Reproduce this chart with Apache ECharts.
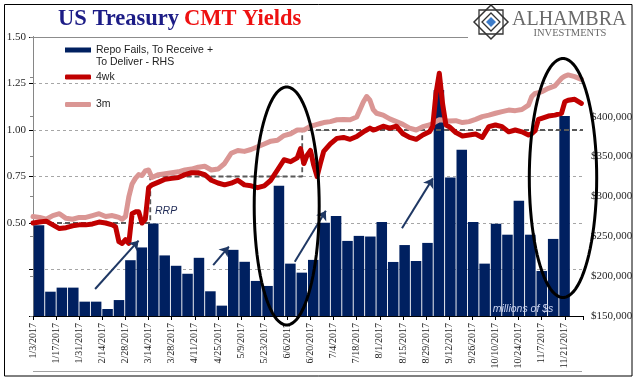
<!DOCTYPE html>
<html><head><meta charset="utf-8">
<script src="https://cdn.jsdelivr.net/npm/echarts@6/dist/echarts.min.js"></script>
<style>html,body{margin:0;padding:0;background:#fff}#c{width:641px;height:381px}</style>
</head><body><div id="c"></div>
<script>
// x tick labels (every 14 days from 1/3/2017)
const tickLabels = ['1/3/2017','1/17/2017','1/31/2017','2/14/2017','2/28/2017','3/14/2017','3/28/2017','4/11/2017','4/25/2017','5/9/2017','5/23/2017','6/6/2017','6/20/2017','7/4/2017','7/18/2017','8/1/2017','8/15/2017','8/29/2017','9/12/2017','9/26/2017','10/10/2017','10/24/2017','11/7/2017','11/21/2017'];
// weekly repo-fails categories
const weekDates = ['1/4','1/11','1/18','1/25','2/1','2/8','2/15','2/22','3/1','3/8','3/15','3/22','3/29','4/5','4/12','4/19','4/26','5/3','5/10','5/17','5/24','5/31','6/7','6/14','6/21','6/28','7/5','7/12','7/19','7/26','8/2','8/9','8/16','8/23','8/30','9/6','9/13','9/20','9/27','10/4','10/11','10/18','10/25','11/1','11/8','11/15','11/22'];
// Repo fails, millions of $
const repoFails = [264000,180500,185600,185600,168000,168000,158800,170000,220000,236000,266000,226000,213000,203000,223000,181000,163000,233000,218000,194000,187700,313300,215700,204400,220400,267000,275600,244200,250500,249700,268000,217800,239000,219000,241700,433500,323700,358500,268000,215700,265600,252000,294500,252000,206500,246700,401000];
// yield series: days since 1/3/2017
const lineDays = [0,4,8,12,16,20,24,28,32,36,40,44,48,50,52,54,56,58,60,62,64,66,68,70,72,76,80,84,88,92,96,100,104,108,112,116,120,124,128,132,136,140,144,148,152,156,160,162,164,166,168,170,172,174,176,180,184,188,192,196,200,202,204,206,208,212,216,220,224,228,232,236,240,242,244,246,248,250,252,256,260,264,268,272,276,280,284,288,292,296,300,302,304,306,308,312,316,320,322,324,328,332];
const yield4wk = [0.50,0.505,0.51,0.49,0.47,0.475,0.485,0.49,0.49,0.495,0.505,0.50,0.49,0.48,0.40,0.39,0.41,0.39,0.55,0.56,0.56,0.50,0.52,0.69,0.705,0.72,0.735,0.74,0.745,0.76,0.77,0.77,0.76,0.73,0.715,0.705,0.714,0.73,0.705,0.70,0.69,0.70,0.73,0.785,0.84,0.83,0.85,0.90,0.82,0.865,0.89,0.81,0.75,0.82,0.885,0.925,0.955,0.96,0.95,0.965,0.99,1.00,1.01,1.00,1.005,1.02,1.01,1.02,0.98,0.96,0.95,0.973,0.99,1.018,1.197,1.305,1.14,1.027,1.018,0.986,0.968,0.973,0.978,0.96,1.018,1.027,1.018,0.99,1.00,0.99,0.973,0.98,0.996,1.057,1.063,1.075,1.08,1.09,1.152,1.16,1.165,1.143];
const yield3m = [0.535,0.53,0.52,0.54,0.55,0.525,0.52,0.53,0.53,0.54,0.55,0.535,0.54,0.535,0.53,0.52,0.535,0.64,0.71,0.74,0.76,0.755,0.78,0.785,0.745,0.76,0.765,0.77,0.775,0.785,0.79,0.80,0.805,0.785,0.79,0.82,0.875,0.89,0.885,0.895,0.91,0.925,0.94,0.945,0.97,0.98,1.00,1.00,1.00,1.01,1.02,1.025,1.03,1.035,1.04,1.045,1.055,1.057,1.055,1.07,1.15,1.18,1.16,1.11,1.09,1.08,1.06,1.045,1.03,1.01,1.00,1.018,1.027,1.035,1.045,1.055,1.054,1.05,1.048,1.05,1.04,1.045,1.057,1.072,1.08,1.09,1.099,1.107,1.104,1.11,1.134,1.18,1.197,1.20,1.206,1.224,1.237,1.278,1.29,1.296,1.287,1.272];
// RRP rate steps
const rrpDays = [0,71,163,333];
const rrpRate = [0.50,0.75,1.00,1.00];
// annotation arrows [fromDay, fromVal, toDay, toVal]
const arrows = [[37.6,0.145,63.9,0.405],[109.1,0.274,118.6,0.373],[158.5,0.292,177.3,0.566],[223.4,0.472,242.1,0.740]];

function ellipsePts(cx, cy, rx, ry){const p=[];for(let i=0;i<90;i++){const t=i/90*Math.PI*2;p.push([cx+rx*Math.cos(t),cy+ry*Math.sin(t)]);}return p;}

const chart = echarts.init(document.getElementById('c'), null, {renderer:'canvas'});
const serif = 'Liberation Serif';
const sans = 'Liberation Sans';
chart.setOption({
  animation:false,
  backgroundColor:'#fff',
  title:{left:58, top:6, padding:0,
    text:'{a|US Treasury} {b|CMT Yields}',
    textStyle:{rich:{
      a:{fontFamily:serif, fontSize:22.5, color:'#1c1c86', lineHeight:26},
      b:{fontFamily:serif, fontSize:22.5, fontWeight:'bold', color:'#ee1111', lineHeight:26}
    }}},
  legend:[
    {data:[{name:'Repo Fails, To Receive +', icon:'rect'}], left:65, top:44.5, padding:0, itemWidth:26, itemHeight:5, selectedMode:false, textStyle:{fontFamily:sans, fontSize:10.5, color:'#222'}},
    {data:[{name:'4wk', icon:'roundRect'}], left:65, top:71.5, padding:0, itemWidth:26, itemHeight:5, selectedMode:false, textStyle:{fontFamily:sans, fontSize:10.5, color:'#222'}},
    {data:[{name:'3m', icon:'roundRect'}], left:65, top:99, padding:0, itemWidth:26, itemHeight:5, selectedMode:false, textStyle:{fontFamily:sans, fontSize:10.5, color:'#222'}}
  ],
  grid:[
    {left:33, right:58, top:37, bottom:65, outerBoundsMode:'none'},
    {left:33.3, right:70.7, top:37, bottom:65, outerBoundsMode:'none'}
  ],
  xAxis:[
    {gridIndex:0, type:'value', min:0, max:333, interval:14, position:'bottom',
     axisLine:{lineStyle:{color:'#000', width:1}},
     axisTick:{show:true, length:4, lineStyle:{color:'#000'}},
     axisLabel:{rotate:90, margin:7, fontFamily:serif, fontSize:10, color:'#222',
       formatter:function(v){const i=Math.round(v/14);return (Math.abs(v-i*14)<0.01 && tickLabels[i])?tickLabels[i]:'';}},
     splitLine:{show:false}},
    {gridIndex:1, type:'category', data:weekDates, boundaryGap:true, show:false},
    {gridIndex:0, type:'value', min:0, max:333, position:'top',
     axisLine:{lineStyle:{color:'#8c8c8c', width:1}}, axisTick:{show:false}, axisLabel:{show:false}, splitLine:{show:false}}
  ],
  yAxis:[
    {gridIndex:0, type:'value', min:0, max:1.5, interval:0.25, position:'left',
     axisLine:{show:true, lineStyle:{color:'#000'}},
     axisTick:{show:true, length:4, lineStyle:{color:'#000'}},
     axisLabel:{margin:7, fontFamily:serif, fontSize:11, color:'#262626',
       formatter:function(v){return v>=0.5?v.toFixed(2):'';}},
     splitLine:{show:true, lineStyle:{color:'#a6a6a6', type:[3,3], width:1}}},
    {gridIndex:0, type:'value', min:150000, max:500000, interval:50000, position:'right',
     axisLine:{show:true, lineStyle:{color:'#868686'}},
     axisTick:{show:true, inside:true, length:3, lineStyle:{color:'#868686'}},
     axisLabel:{margin:8, fontFamily:serif, fontSize:11, color:'#262626',
       formatter:function(v){return v<=400000?'$'+v.toLocaleString('en-US'):'';}},
     splitLine:{show:false}},
    {gridIndex:1, type:'value', min:150000, max:500000, show:false, splitLine:{show:false}}
  ],
  series:[
    {name:'Repo Fails, To Receive +', type:'bar', xAxisIndex:1, yAxisIndex:2, data:repoFails,
     barCategoryGap:'8%', itemStyle:{color:'#002060'}, z:1, silent:true},
    {name:'RRP', type:'line', xAxisIndex:0, yAxisIndex:0, step:'end',
     data:rrpDays.map((d,i)=>[d,rrpRate[i]]), showSymbol:false, z:2, silent:true,
     lineStyle:{color:'#595959', width:1.8, type:[5,3]},
     markLine:{silent:true, symbol:['none','arrow'], symbolSize:9, label:{show:false},
       lineStyle:{color:'#1f3864', width:2, type:'solid'},
       data:arrows.map(a=>[{coord:[a[0],a[1]]},{coord:[a[2],a[3]]}])}},
    {name:'3m', type:'line', xAxisIndex:0, yAxisIndex:0, data:lineDays.map((d,i)=>[d,yield3m[i]]),
     showSymbol:false, z:3, silent:true, color:'#da9694',
     lineStyle:{color:'#da9694', width:5, cap:'round', join:'round'}},
    {name:'4wk', type:'line', xAxisIndex:0, yAxisIndex:0, data:lineDays.map((d,i)=>[d,yield4wk[i]]),
     showSymbol:false, z:4, silent:true, color:'#c00000',
     lineStyle:{color:'#c00000', width:5, cap:'round', join:'round'}}
  ],
  graphic:[
    {type:'rect', shape:{x:4.5, y:4.5, width:627.5, height:371.5}, style:{fill:'none', stroke:'#000', lineWidth:1}, z:50, silent:true},
    {type:'line', shape:{x1:33, y1:371.5, x2:582, y2:371.5}, style:{stroke:'#a0a0a0', lineWidth:1.2}, z:50, silent:true},
    {type:'text', style:{x:96, y:62.5, text:'To Deliver - RHS', font:'10.5px '+sans, fill:'#222', align:'left', verticalAlign:'middle', textAlign:'left', textVerticalAlign:'middle'}, z:50, silent:true},
    {type:'text', style:{x:155, y:211, text:'RRP', font:'italic 10.5px '+sans, fill:'#1f2a55', align:'left', verticalAlign:'middle', textAlign:'left', textVerticalAlign:'middle'}, z:50, silent:true},
    {type:'text', style:{x:523, y:309, text:'millions of $s', font:'italic 10.5px '+sans, fill:'#c9d3f0', align:'center', verticalAlign:'middle', textAlign:'center', textVerticalAlign:'middle'}, z:50, silent:true},
    {type:'polygon', shape:{points:ellipsePts(286.7,206,32.5,119)}, style:{fill:'none', stroke:'#000', lineWidth:3}, z:60, silent:true},
    {type:'polygon', shape:{points:ellipsePts(563,178,33.7,119.5)}, style:{fill:'none', stroke:'#000', lineWidth:3}, z:60, silent:true},
    // logo
    {type:'rect', shape:{x:468, y:5, width:163, height:42}, style:{fill:'#fff'}, z:55, silent:true},
    {type:'polygon', shape:{points:[[491,5],[508,22],[491,39],[474,22]]}, style:{fill:'#fff', stroke:'#333', lineWidth:1.5}, z:56, silent:true},
    {type:'rect', shape:{x:479, y:10, width:24, height:24}, style:{fill:'none', stroke:'#333', lineWidth:1.3}, z:57, silent:true},
    {type:'polygon', shape:{points:[[491,13],[500,22],[491,31],[482,22]]}, style:{fill:'none', stroke:'#333', lineWidth:1.3}, z:57, silent:true},
    {type:'polygon', shape:{points:[[491,17],[496,22],[491,27],[486,22]]}, style:{fill:'#3d7cc9'}, z:58, silent:true},
    {type:'text', style:{x:512, y:20, text:'ALHAMBRA', font:'20px '+serif, fill:'#6a6a6a', align:'left', verticalAlign:'middle', textAlign:'left', textVerticalAlign:'middle'}, z:58, silent:true},
    {type:'text', style:{x:570, y:33, text:'INVESTMENTS', font:'10.5px '+serif, fill:'#6a6a6a', align:'center', verticalAlign:'middle', textAlign:'center', textVerticalAlign:'middle'}, z:58, silent:true}
  ]
});
</script></body></html>
